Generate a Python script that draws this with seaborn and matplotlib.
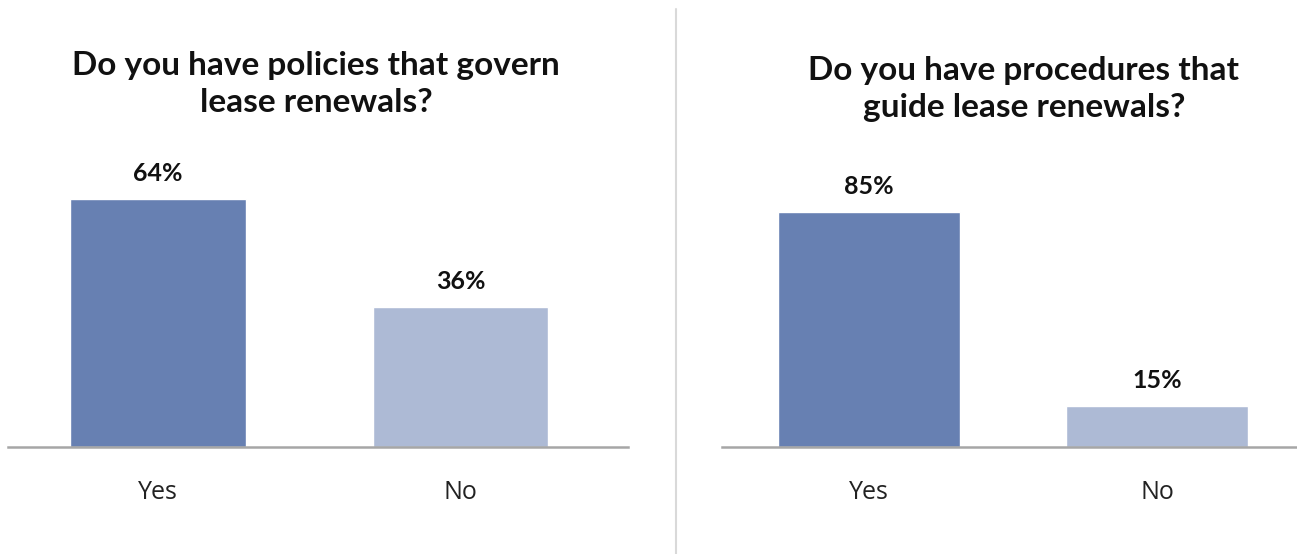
import matplotlib
matplotlib.use("Agg")
import matplotlib.pyplot as plt
import seaborn as sns
import pandas as pd

# Survey answers
answers = ["Yes", "No"]
policies_pct = [64, 36]
procedures_pct = [85, 15]
titles = ["Do you have policies that govern\nlease renewals?",
          "Do you have procedures that\nguide lease renewals?"]
bar_colors = ["#6780B2", "#ADBAD5"]

sns.set_theme(style="white")
plt.rcParams["font.family"] = ["Lato", "DejaVu Sans"]

W, H = 1297, 554
fig = plt.figure(figsize=(W / 100, H / 100), dpi=100)

def px_axes(x0, x1, y_top, y_bot):
    return fig.add_axes([x0 / W, 1 - y_bot / H, (x1 - x0) / W, (y_bot - y_top) / H])

panels = [
    dict(values=policies_pct, title=titles[0], box=(8, 628, 150, 447),
         xlim=(-0.496, 1.554), ytop=76.5, width=0.58, title_x=316, title_y=84),
    dict(values=procedures_pct, title=titles[1], box=(722, 1297, 150, 447),
         xlim=(-0.51, 1.486), ytop=107.6, width=0.63, title_x=1024, title_y=89),
]

for p in panels:
    ax = px_axes(*p["box"])
    df = pd.DataFrame({"answer": answers, "pct": p["values"]})
    sns.barplot(data=df, x="answer", y="pct", hue="answer", palette=bar_colors,
                width=p["width"], legend=False, ax=ax, saturation=1)
    ax.set_xlim(*p["xlim"])
    ax.set_ylim(0, p["ytop"])
    for cont in ax.containers:
        ax.bar_label(cont, labels=[f"{v:.0f}%" for v in cont.datavalues],
                     padding=10, fontsize=18, fontweight="bold", color="#111111")
    for s in ["top", "right", "left"]:
        ax.spines[s].set_visible(False)
    ax.spines["bottom"].set_color("#A6A6A6")
    ax.spines["bottom"].set_linewidth(1.8)
    ax.set_yticks([])
    ax.set_xlabel("")
    ax.set_ylabel("")
    ax.tick_params(axis="x", length=0, pad=24, labelcolor="#222222")
    for lbl in ax.get_xticklabels():
        lbl.set_fontfamily(["Open Sans", "DejaVu Sans"])
        lbl.set_fontsize(18)
    fig.text(p["title_x"] / W, 1 - p["title_y"] / H, p["title"], ha="center",
             va="center", fontsize=24, fontweight="bold", color="#111111",
             linespacing=1.3)

# vertical divider between the two panels
fig.add_artist(plt.Line2D([676 / W, 676 / W], [0, 1 - 9 / H],
                          color="#D9D9D9", linewidth=1.5))

fig.savefig("out.png", dpi=100, facecolor="white")
